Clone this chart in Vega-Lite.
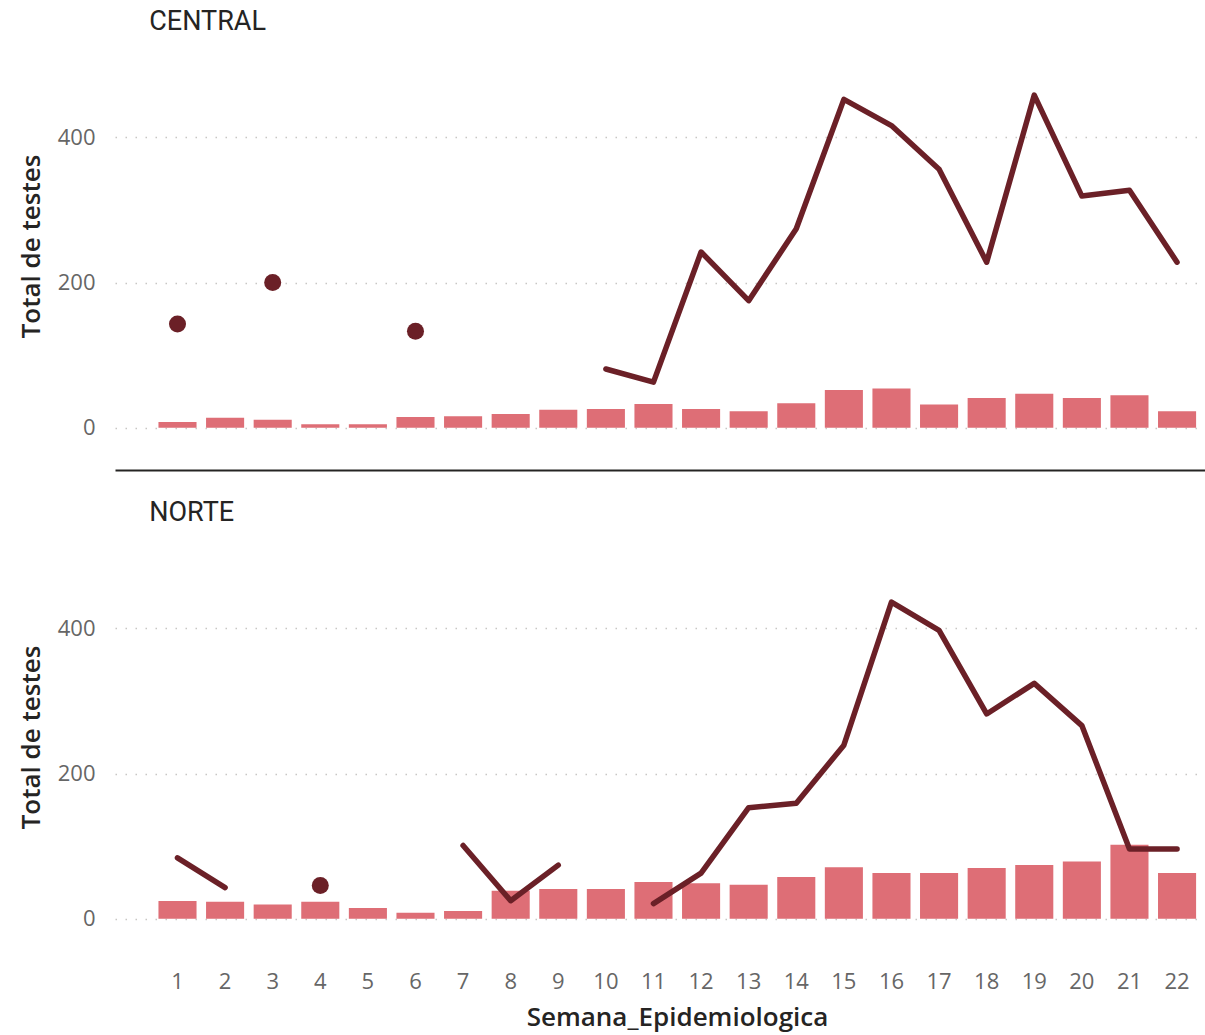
{
  "$schema": "https://vega.github.io/schema/vega-lite/v6.json",
  "autosize": {"type": "pad"},
  "padding": {"left": 18, "top": 8, "right": 0, "bottom": 4},
  "background": "white",
  "datasets": {
    "dados": [
      {"Regiao": "CENTRAL", "Semana": 1, "Positivos": 8, "Testes": 143},
      {"Regiao": "CENTRAL", "Semana": 2, "Positivos": 14, "Testes": null},
      {"Regiao": "CENTRAL", "Semana": 3, "Positivos": 11, "Testes": 200},
      {"Regiao": "CENTRAL", "Semana": 4, "Positivos": 5, "Testes": null},
      {"Regiao": "CENTRAL", "Semana": 5, "Positivos": 5, "Testes": null},
      {"Regiao": "CENTRAL", "Semana": 6, "Positivos": 15, "Testes": 133},
      {"Regiao": "CENTRAL", "Semana": 7, "Positivos": 16, "Testes": null},
      {"Regiao": "CENTRAL", "Semana": 8, "Positivos": 19, "Testes": null},
      {"Regiao": "CENTRAL", "Semana": 9, "Positivos": 25, "Testes": null},
      {"Regiao": "CENTRAL", "Semana": 10, "Positivos": 26, "Testes": 81},
      {"Regiao": "CENTRAL", "Semana": 11, "Positivos": 33, "Testes": 63},
      {"Regiao": "CENTRAL", "Semana": 12, "Positivos": 26, "Testes": 242},
      {"Regiao": "CENTRAL", "Semana": 13, "Positivos": 23, "Testes": 175},
      {"Regiao": "CENTRAL", "Semana": 14, "Positivos": 34, "Testes": 274},
      {"Regiao": "CENTRAL", "Semana": 15, "Positivos": 52, "Testes": 452},
      {"Regiao": "CENTRAL", "Semana": 16, "Positivos": 54, "Testes": 416},
      {"Regiao": "CENTRAL", "Semana": 17, "Positivos": 32, "Testes": 356},
      {"Regiao": "CENTRAL", "Semana": 18, "Positivos": 41, "Testes": 228},
      {"Regiao": "CENTRAL", "Semana": 19, "Positivos": 47, "Testes": 458},
      {"Regiao": "CENTRAL", "Semana": 20, "Positivos": 41, "Testes": 319},
      {"Regiao": "CENTRAL", "Semana": 21, "Positivos": 45, "Testes": 327},
      {"Regiao": "CENTRAL", "Semana": 22, "Positivos": 23, "Testes": 228},
      {"Regiao": "NORTE", "Semana": 1, "Positivos": 24.5, "Testes": 84},
      {"Regiao": "NORTE", "Semana": 2, "Positivos": 23.5, "Testes": 43},
      {"Regiao": "NORTE", "Semana": 3, "Positivos": 19.6, "Testes": null},
      {"Regiao": "NORTE", "Semana": 4, "Positivos": 23.5, "Testes": 46},
      {"Regiao": "NORTE", "Semana": 5, "Positivos": 15, "Testes": null},
      {"Regiao": "NORTE", "Semana": 6, "Positivos": 8.4, "Testes": null},
      {"Regiao": "NORTE", "Semana": 7, "Positivos": 10.8, "Testes": 101},
      {"Regiao": "NORTE", "Semana": 8, "Positivos": 38.6, "Testes": 25},
      {"Regiao": "NORTE", "Semana": 9, "Positivos": 41, "Testes": 74},
      {"Regiao": "NORTE", "Semana": 10, "Positivos": 41, "Testes": null},
      {"Regiao": "NORTE", "Semana": 11, "Positivos": 50.7, "Testes": 21},
      {"Regiao": "NORTE", "Semana": 12, "Positivos": 49, "Testes": 63},
      {"Regiao": "NORTE", "Semana": 13, "Positivos": 47, "Testes": 153},
      {"Regiao": "NORTE", "Semana": 14, "Positivos": 57.5, "Testes": 159},
      {"Regiao": "NORTE", "Semana": 15, "Positivos": 71, "Testes": 239},
      {"Regiao": "NORTE", "Semana": 16, "Positivos": 63, "Testes": 436},
      {"Regiao": "NORTE", "Semana": 17, "Positivos": 63, "Testes": 397},
      {"Regiao": "NORTE", "Semana": 18, "Positivos": 70, "Testes": 282},
      {"Regiao": "NORTE", "Semana": 19, "Positivos": 74, "Testes": 324},
      {"Regiao": "NORTE", "Semana": 20, "Positivos": 79, "Testes": 266},
      {"Regiao": "NORTE", "Semana": 21, "Positivos": 102, "Testes": 96},
      {"Regiao": "NORTE", "Semana": 22, "Positivos": 63, "Testes": 96}
    ]
  },
  "config": {
    "view": {"stroke": null},
    "font": "Open Sans",
    "axis": {
      "labelFont": "Open Sans",
      "labelFontSize": 22,
      "labelColor": "#666666",
      "titleFont": "Open Sans",
      "titleFontSize": 26,
      "titleFontWeight": 600,
      "titleColor": "#252423",
      "ticks": false
    },
    "title": {"font": "Roboto", "fontSize": 27, "fontWeight": "normal", "color": "#252423", "anchor": "start", "dx": 131, "offset": 14}
  },
  "spacing": 29,
  "vconcat": [
    {
      "title": "CENTRAL",
      "width": 1090,
      "height": 420,
      "data": {"name": "dados"},
      "transform": [{"filter": "datum.Regiao === 'CENTRAL'"}],
      "encoding": {
        "x": {
          "field": "Semana", "type": "ordinal",
          "scale": {"paddingInner": 0.2, "paddingOuter": 0.55, "align": 0.83},
          "axis": {"title": null, "labels": false, "domain": true, "domainColor": "#252423", "domainWidth": 2, "grid": false}
        }
      },
      "layer": [
        {
          "mark": {"type": "bar", "color": "#DE6E76"},
          "encoding": {
            "y": {
              "field": "Positivos", "type": "quantitative",
              "scale": {"domain": [-58, 520], "nice": false, "zero": false},
              "axis": {"title": "Total de testes", "values": [0, 200, 400], "domain": false, "grid": true, "gridColor": "#C8C6C4", "gridDash": [1.5, 8.5], "gridWidth": 1.5, "labelPadding": 20, "titlePadding": 13, "titleY": 196}
            }
          }
        },
        {
          "mark": {"type": "line", "color": "#6B2027", "strokeWidth": 5.5, "strokeCap": "round", "strokeJoin": "round"},
          "encoding": {
            "y": {"field": "Testes", "type": "quantitative"}
          }
        },
        {
          "transform": [
            {"window": [{"op": "lag", "field": "Testes", "as": "ant"}, {"op": "lead", "field": "Testes", "as": "prox"}], "sort": [{"field": "Semana"}]},
            {"filter": "datum.Testes != null && datum.ant == null && datum.prox == null"}
          ],
          "mark": {"type": "point", "filled": true, "opacity": 1, "color": "#6B2027", "size": 290},
          "encoding": {
            "y": {"field": "Testes", "type": "quantitative"}
          }
        }
      ]
    },
    {
      "title": "NORTE",
      "width": 1090,
      "height": 420,
      "data": {"name": "dados"},
      "transform": [{"filter": "datum.Regiao === 'NORTE'"}],
      "encoding": {
        "x": {
          "field": "Semana", "type": "ordinal",
          "scale": {"paddingInner": 0.2, "paddingOuter": 0.55, "align": 0.83},
          "axis": {"title": "Semana_Epidemiologica", "labelAngle": 0, "domain": false, "grid": false, "labelPadding": 10, "titlePadding": 12, "titleX": 562}
        }
      },
      "layer": [
        {
          "mark": {"type": "bar", "color": "#DE6E76"},
          "encoding": {
            "y": {
              "field": "Positivos", "type": "quantitative",
              "scale": {"domain": [-58, 520], "nice": false, "zero": false},
              "axis": {"title": "Total de testes", "values": [0, 200, 400], "domain": false, "grid": true, "gridColor": "#C8C6C4", "gridDash": [1.5, 8.5], "gridWidth": 1.5, "labelPadding": 20, "titlePadding": 13, "titleY": 196}
            }
          }
        },
        {
          "mark": {"type": "line", "color": "#6B2027", "strokeWidth": 5.5, "strokeCap": "round", "strokeJoin": "round"},
          "encoding": {
            "y": {"field": "Testes", "type": "quantitative"}
          }
        },
        {
          "transform": [
            {"window": [{"op": "lag", "field": "Testes", "as": "ant"}, {"op": "lead", "field": "Testes", "as": "prox"}], "sort": [{"field": "Semana"}]},
            {"filter": "datum.Testes != null && datum.ant == null && datum.prox == null"}
          ],
          "mark": {"type": "point", "filled": true, "opacity": 1, "color": "#6B2027", "size": 290},
          "encoding": {
            "y": {"field": "Testes", "type": "quantitative"}
          }
        }
      ]
    }
  ]
}
